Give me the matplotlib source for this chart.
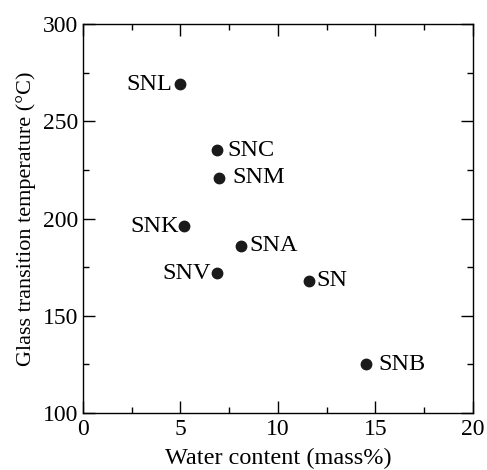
import matplotlib
matplotlib.use("Agg")
import matplotlib.pyplot as plt
from matplotlib.ticker import MultipleLocator

plt.rcParams['font.family'] = ['Liberation Serif', 'DejaVu Serif']

# data
names = ["SNL", "SNC", "SNM", "SNK", "SNA", "SNV", "SN", "SNB"]
water = [5.0, 6.9, 7.0, 5.2, 8.1, 6.9, 11.6, 14.5]
tg = [269, 235, 221, 196, 186, 172, 168, 125]
# label side: -1 = left of point, 1 = right
side = [-1, 1, 1, -1, 1, -1, 1, 1]
gap = [6, 7, 9.5, 4, 6.5, 4.5, 5, 9]

fig = plt.figure(figsize=(4.87, 4.70), dpi=100)
ax = fig.add_axes([0.170, 0.121, 0.801, 0.828])

ax.plot(water, tg, 'o', color='#1a1a1a', markersize=7.5, linestyle='none')

for n, x, y, s, g in zip(names, water, tg, side, gap):
    ax.annotate(n, (x, y), xytext=(s * g, 0), textcoords='offset points',
                ha='left' if s > 0 else 'right', va='center', fontsize=17.5)

ax.set_xlim(0, 20)
ax.set_ylim(100, 300)
ax.xaxis.set_major_locator(MultipleLocator(5))
ax.xaxis.set_minor_locator(MultipleLocator(2.5))
ax.yaxis.set_major_locator(MultipleLocator(50))
ax.yaxis.set_minor_locator(MultipleLocator(25))
ax.tick_params(which='both', direction='in', top=True, right=True, labelsize=17, width=1.0)
ax.tick_params(which='major', length=8.5)
ax.tick_params(which='minor', length=4.5)
ax.tick_params(axis='x', pad=4)
ax.tick_params(axis='y', pad=3)
for sp in ax.spines.values():
    sp.set_linewidth(1.0)

ax.set_xlabel("Water content (mass%)", fontsize=17.5, labelpad=6)
ax.set_ylabel("Glass transition temperature (°C)", fontsize=16, labelpad=5)

fig.savefig("out.png", dpi=100)
